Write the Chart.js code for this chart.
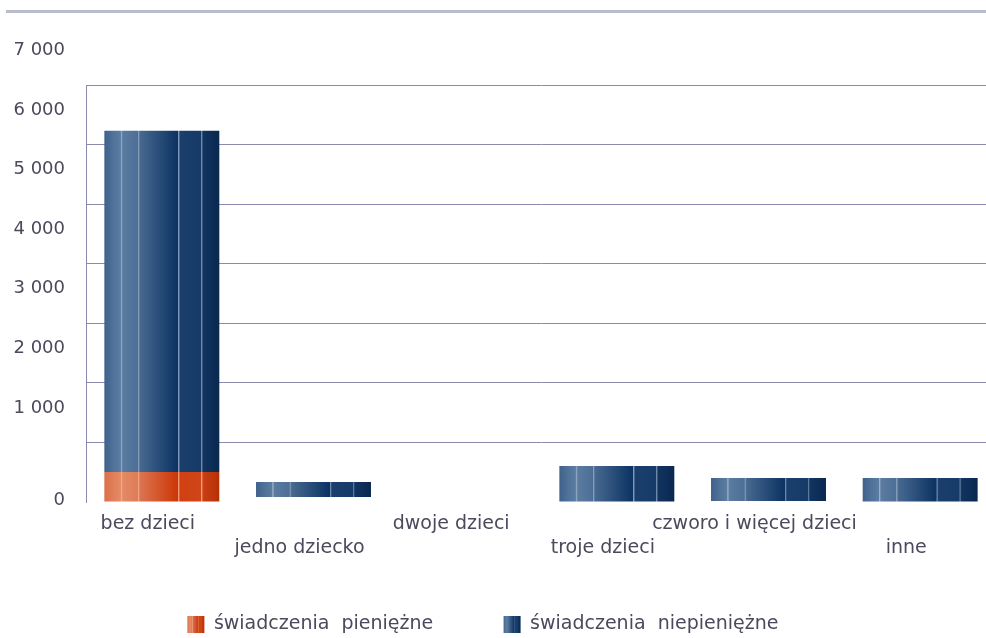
<!DOCTYPE html>
<html lang="pl">
<head>
<meta charset="utf-8">
<script src="https://cdn.jsdelivr.net/npm/chart.js@4.4.1/dist/chart.umd.min.js"></script>
<style>
  html, body { margin: 0; padding: 0; background: #fff; overflow: hidden; }
  #wrap { position: relative; width: 986px; height: 638px; overflow: hidden; }
  #topLine { position: absolute; left: 6px; right: 0; top: 10px; height: 3px; background: #b9bccc; }
  #chart { position: absolute; left: 0; top: 0; }
</style>
</head>
<body>
<div id="wrap">
  <div id="topLine"></div>
  <canvas id="chart" width="998" height="644"></canvas>
</div>
<script>
// Dane
const kategorie = ['bez dzieci', 'jedno dziecko', 'dwoje dzieci', 'troje dzieci', 'czworo i więcej dzieci', 'inne'];
const pieniezneOd = [0, null, null, null, null, null];
const pieniezneDo = [505, null, null, null, null, null];
const niepieniezneOd = [505, 84, null, 0, 17, 0];
const niepieniezneDo = [6230, 336, null, 604, 403, 403];
const osYWartosci = [0, 1000, 2000, 3000, 4000, 5000, 6000, 7000];
const osYEtykiety = ['0', '1 000', '2 000', '3 000', '4 000', '5 000', '6 000', '7 000'];
const nazwySerii = ['świadczenia  pieniężne', 'świadczenia  niepieniężne'];

const czcionka = 'DejaVu Sans';
const kolorTekstu = '#4a4a5c';
const kolorSiatki = '#8a8aac';
const szerokoscSlupka = 0.758;
const przesuniecieEtykiet = 580; // etykiety osi Y leżą nad liniami siatki

// Paski gradientu (pozycja 0..1, kolor)
const pasyCzerwone = [
  [0, '#dc6e48'], [0.08, '#e0805a'], [0.14, '#e38a64'], [0.145, '#f3b496'], [0.16, '#e38a64'],
  [0.29, '#de7c56'], [0.295, '#f0aa8a'], [0.31, '#db7450'], [0.64, '#cc3606'], [0.645, '#eb9874'],
  [0.66, '#d04012'], [0.84, '#cf4618'], [0.845, '#ee9c7c'], [0.86, '#c93e12'], [1, '#b53006']
];
const pasyNiebieskie = [
  [0, '#3e618b'], [0.08, '#51739a'], [0.14, '#5a7ca1'], [0.145, '#a2b4ca'], [0.16, '#5a7ca1'],
  [0.29, '#4d6f97'], [0.295, '#8ea4be'], [0.31, '#476990'], [0.64, '#0b3262'], [0.645, '#8199b6'],
  [0.66, '#1a3f6d'], [0.84, '#173b69'], [0.845, '#7089a9'], [0.86, '#103460'], [1, '#0a2850']
];

function gradient(ctx, x0, x1, pasy) {
  const g = ctx.createLinearGradient(x0, 0, x1, 0);
  pasy.forEach(([p, c]) => g.addColorStop(p, c));
  return g;
}

function wypelnienie(pasy) {
  return (c) => {
    const chart = c.chart;
    if (!chart.chartArea || c.dataIndex === undefined) return pasy[6][1];
    const xs = chart.scales.x;
    const srodek = xs.getPixelForValue(c.dataIndex);
    const w = xs.width / kategorie.length * szerokoscSlupka;
    return gradient(chart.ctx, srodek - w / 2, srodek + w / 2, pasy);
  };
}

const pary = (od, doo) => od.map((v, i) => v === null ? null : [v, doo[i]]);

const data = {
  labels: kategorie,
  datasets: [{
    label: nazwySerii[0],
    data: pary(pieniezneOd, pieniezneDo),
    backgroundColor: wypelnienie(pasyCzerwone),
    grouped: false
  }, {
    label: nazwySerii[1],
    data: pary(niepieniezneOd, niepieniezneDo),
    backgroundColor: wypelnienie(pasyNiebieskie),
    grouped: false
  }]
};

// Pola legendy też z paskami
const legendaPaski = {
  id: 'legendaPaski',
  beforeDraw(chart) {
    const lg = chart.legend;
    if (!lg || !lg.legendItems) return;
    const bw = lg.options.labels.boxWidth;
    lg.legendItems.forEach((item, i) => {
      const hb = lg.legendHitBoxes[i];
      item.fillStyle = gradient(chart.ctx, hb.left, hb.left + bw, i === 0 ? pasyCzerwone : pasyNiebieskie);
    });
  }
};

const config = {
  type: 'bar',
  data: data,
  plugins: [legendaPaski],
  options: {
    responsive: false,
    animation: false,
    categoryPercentage: szerokoscSlupka,
    barPercentage: 1,
    layout: { padding: { top: 85, right: 2, left: 0, bottom: 0 } },
    plugins: {
      tooltip: { enabled: false },
      legend: {
        position: 'bottom',
        labels: {
          boxWidth: 17,
          boxHeight: 17,
          padding: 10,
          color: kolorTekstu,
          font: { family: czcionka, size: 19 },
          // spacje na końcu rozsuwają pozycje legendy
          generateLabels: (chart) => chart.data.datasets.map((ds, i) => ({
            text: ds.label + (i === 0 ? '          ' : '     '),
            fillStyle: i === 0 ? '#d04a20' : '#1e4270',
            strokeStyle: 'rgba(0,0,0,0)',
            lineWidth: 0,
            fontColor: kolorTekstu,
            datasetIndex: i
          }))
        }
      }
    },
    scales: {
      x: {
        grid: { display: false },
        border: { display: false },
        ticks: {
          color: kolorTekstu,
          font: { family: czcionka, size: 19, lineHeight: 1.25 },
          padding: 2,
          labelOffset: -14,
          maxRotation: 0,
          autoSkip: false,
          callback: (v, i) => i % 2 ? ['', kategorie[i]] : kategorie[i]
        },
        afterFit: (s) => { s.height = 103; }
      },
      y: {
        position: 'left',
        weight: 0,
        min: 0,
        max: 7000,
        ticks: { display: false, stepSize: 1000 },
        grid: {
          drawTicks: false,
          color: (c) => c.tick && c.tick.value === 0 ? 'rgba(0,0,0,0)' : kolorSiatki
        },
        border: { display: true, color: kolorSiatki, width: 1 }
      },
      y2: {
        position: 'left',
        weight: 1,
        min: 0,
        max: 7000,
        grid: { display: false },
        border: { display: false },
        afterBuildTicks: (s) => {
          s.ticks = osYWartosci.map(v => ({ value: v === 0 ? 20 : v + przesuniecieEtykiet }));
        },
        afterFit: (s) => { s.width = 86; },
        ticks: {
          autoSkip: false,
          color: kolorTekstu,
          padding: 13,
          font: { family: czcionka, size: 18 },
          callback: (v, i) => osYEtykiety[i]
        }
      }
    }
  }
};

const wykres = new Chart(document.getElementById('chart'), config);
</script>
</body>
</html>
